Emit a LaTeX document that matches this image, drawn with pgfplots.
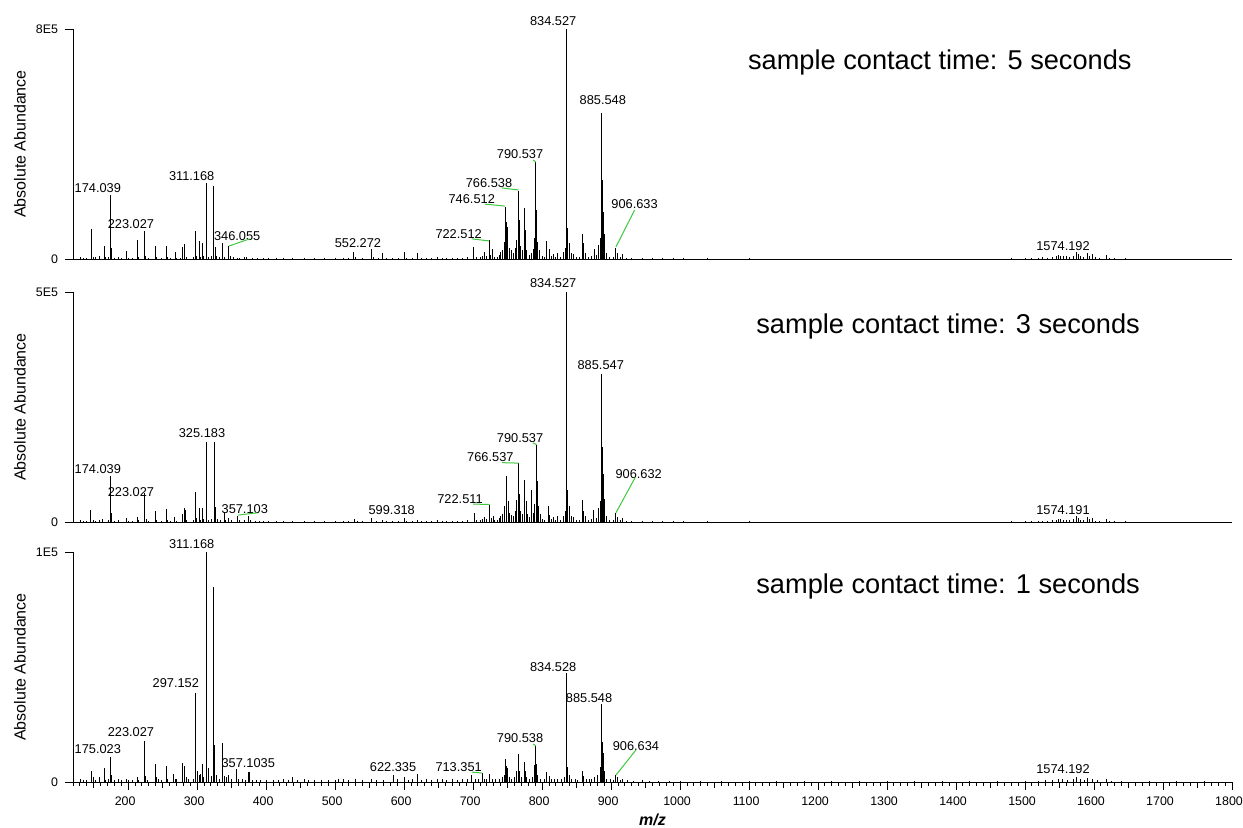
\documentclass[border=0pt]{standalone}
\usepackage{fontspec}
\setmainfont{Liberation Sans}
\usepackage{pgfplots}
\pgfplotsset{compat=1.18}
\definecolor{leader}{RGB}{60,200,60}
\newcommand\pk{\fontsize{6.4}{7}\selectfont}
\newcommand\annfont{\fontsize{13.6}{16}\selectfont}
\tikzset{
  lab/.style={font=\pk, inner sep=0pt, anchor=center},
  ann/.style={font=\annfont, inner sep=0pt, anchor=west},
  ld/.style={leader, line width=0.5pt},
}
\begin{document}
\begin{tikzpicture}
\path[use as bounding box] (-36.5pt,-22.5pt) rectangle (585pt,391pt);
\pgfplotsset{
  spec/.style={
    width=579.5pt, height=115pt, scale only axis,
    anchor=south west,
    xmin=120, xmax=1800, ymin=0,
    axis x line=bottom, axis y line=left,
    axis line style={-, line width=0.5pt},
    clip=false,
    tick align=outside,
    major tick length=4pt,
    tick style={line width=0.5pt, black},
    scaled y ticks=false,
    yticklabel style={font=\fontsize{6.2}{7}\selectfont},
    ylabel={Absolute Abundance},
    ylabel style={font=\fontsize{8}{9}\selectfont, at={(axis description cs:0,0.5)}, anchor=center, yshift=26.5pt},
  },
  sp/.style={ycomb, black, line width=0.5pt, mark=none},
}

% ---------- top: 5 seconds ----------
\begin{axis}[spec, at={(0,261.5pt)}, ymax=800000,
  xtick=\empty, ytick={0,800000}, yticklabels={0,8E5}]
\addplot[sp] coordinates {
(131,8000)(135,5000)(140,4000)(147,104000)(149,8000)(152,6000)(158,10000)(165,45000)(167,6000)(172,6000)
(174,223000)(175,177000)(176,40000)(180,5000)(186,6000)(190,4000)(197,28000)(200,5000)(206,4000)(213,66000)
(215,6000)(223,97000)(225,10000)(230,4000)(239,45000)(241,8000)(248,4000)(255,45000)(257,6000)(262,4000)
(268,24000)(270,5000)(276,3000)(279,42000)(281,52000)(282,45000)(285,8000)(294,8000)(297,97000)(299,10000)
(303,63000)(305,8000)(307,56000)(309,10000)(313,264000)(314,45000)(316,8000)(321,10000)(324,254000)(326,42000)
(328,10000)(332,6000)(337,56000)(339,8000)(346,45000)(348,10000)(352,6000)(358,5000)(362,4000)(369,6000)
(372,6000)(380,4000)(388,3000)(396,3000)(404,4000)(415,3000)(425,2000)(438,4000)(455,3000)(470,2000)
(485,2000)(500,2000)(512,3000)(520,4000)(527,24000)(530,6000)(540,3000)(552,35000)(555,6000)(563,4000)
(569,21000)(575,3000)(583,4000)(592,3000)(600,24000)(604,4000)(612,3000)(619,21000)(625,4000)(633,3000)
(640,4000)(648,6000)(655,3000)(662,4000)(670,3000)(678,5000)(685,4000)(692,6000)(701,42000)(705,6000)
(710,8000)(714,10000)(717,24000)(720,12000)(723,66000)(725,14000)(728,35000)(731,8000)(735,6000)(738,14000)
(740,24000)(743,30000)(745,60000)(747,181000)(748,129000)(750,111000)(752,40000)(755,30000)(758,20000)(761,40000)
(763,66000)(766,236000)(767,135000)(769,45000)(771,30000)(774,177000)(776,101000)(778,30000)(781,15000)(784,20000)
(787,35000)(789,73000)(791,337000)(792,170000)(794,60000)(796,30000)(800,10000)(804,8000)(807,63000)(810,35000)
(813,10000)(817,17000)(820,8000)(823,21000)(827,6000)(831,24000)(834,40000)(836,800000)(837,108000)(839,56000)
(842,20000)(845,17000)(850,8000)(854,6000)(858,87000)(860,56000)(863,21000)(867,8000)(871,10000)(876,35000)
(879,15000)(882,50000)(884,73000)(886,508000)(887,275000)(889,163000)(891,87000)(894,20000)(898,8000)(903,6000)
(907,38000)(909,21000)(913,8000)(917,17000)(922,5000)(930,3000)(945,2500)(960,2000)(975,3000)(990,2000)
(1005,2000)(1020,1500)(1040,2000)(1060,1500)(1080,1500)(1100,2000)(1120,1500)(1150,1500)(1180,1200)(1210,1500)
(1240,1200)(1270,1500)(1300,1200)(1330,1200)(1360,1500)(1390,1200)(1420,1500)(1450,1200)(1480,2000)(1500,2500)
(1510,3000)(1520,4000)(1526,6000)(1532,5000)(1540,8000)(1545,10000)(1548,14000)(1552,12000)(1556,9000)(1560,10000)
(1565,8000)(1570,12000)(1575,24000)(1577,18000)(1580,10000)(1585,8000)(1591,21000)(1594,12000)(1598,17000)(1602,6000)
(1608,4000)(1618,14000)(1622,5000)(1630,3000)(1645,2000)(1665,1500)(1690,1200)(1720,1200)(1750,1000)(1780,1000)
};
\node[lab] at (axis cs:816,828000) {834.527};
\node[lab] at (axis cs:888,553000) {885.548};
\node[lab] at (axis cs:768,365000) {790.537};
\node[lab] at (axis cs:723,264000) {766.538};
\node[lab] at (axis cs:698,209000) {746.512};
\node[lab] at (axis cs:679,87000) {722.512};
\node[lab] at (axis cs:934,191000) {906.633};
\node[lab] at (axis cs:156,247000) {174.039};
\node[lab] at (axis cs:292,289000) {311.168};
\node[lab] at (axis cs:204,122000) {223.027};
\node[lab] at (axis cs:358,80000) {346.055};
\node[lab] at (axis cs:533,56000) {552.272};
\node[lab] at (axis cs:1555,45000) {1574.192};
\draw[ld] (axis cs:787,344000) -- (axis cs:791,337000);
\draw[ld] (axis cs:742,247000) -- (axis cs:766,240000);
\draw[ld] (axis cs:717,191000) -- (axis cs:746,184000);
\draw[ld] (axis cs:698,70000) -- (axis cs:723,63000);
\draw[ld] (axis cs:934,170000) -- (axis cs:907,42000);
\draw[ld] (axis cs:346,45000) -- (axis cs:376,70000);
\node[ann] at (axis cs:1098,685000) {sample contact time: 5 seconds};
\end{axis}

% ---------- middle: 3 seconds ----------
\begin{axis}[spec, at={(0,130pt)}, ymax=500000,
  xtick=\empty, ytick={0,500000}, yticklabels={0,5E5}]
\addplot[sp] coordinates {
(131,4000)(135,3000)(140,3000)(146,26000)(149,4000)(152,3000)(158,5000)(163,6000)(172,4000)(174,100000)
(175,80000)(176,20000)(180,3000)(186,4000)(197,8000)(200,3000)(206,3000)(213,10000)(215,4000)(224,64000)
(226,6000)(230,3000)(239,25000)(241,4000)(248,3000)(255,28000)(257,4000)(262,3000)(267,11000)(270,3000)
(279,18000)(281,31000)(283,27000)(285,5000)(294,5000)(297,65000)(299,8000)(303,30000)(305,5000)(307,30000)
(309,6000)(313,175000)(314,30000)(316,5000)(321,6000)(325,175000)(327,33000)(330,6000)(334,4000)(339,22000)
(341,5000)(345,9000)(350,4000)(359,13000)(362,4000)(369,5000)(375,12000)(378,5000)(384,3000)(390,3000)
(396,3000)(404,3000)(415,2000)(425,2000)(438,3000)(455,2000)(470,2000)(485,1500)(500,2000)(512,2000)
(520,3000)(528,7000)(532,3000)(540,2000)(552,9000)(560,3000)(569,4000)(575,2000)(583,3000)(592,2000)
(600,9000)(604,3000)(612,2000)(619,4000)(625,3000)(633,2000)(640,3000)(648,4000)(655,2000)(662,3000)
(670,2000)(678,3000)(685,3000)(692,4000)(702,20000)(705,4000)(710,5000)(714,6000)(717,10000)(720,6000)
(724,36000)(726,8000)(729,12000)(731,5000)(735,4000)(738,8000)(740,12000)(743,18000)(745,35000)(748,100000)
(749,60000)(751,45000)(753,20000)(756,15000)(759,12000)(761,25000)(763,48000)(766,129000)(767,60000)(769,25000)
(771,18000)(775,92000)(777,45000)(779,18000)(781,10000)(784,70000)(787,20000)(789,40000)(792,168000)(793,90000)
(795,35000)(797,18000)(800,6000)(804,5000)(809,35000)(811,15000)(814,6000)(817,10000)(820,5000)(823,12000)
(827,4000)(831,14000)(834,25000)(836,500000)(837,70000)(839,35000)(842,12000)(845,10000)(850,5000)(854,4000)
(858,48000)(860,25000)(863,12000)(867,5000)(871,6000)(875,26000)(879,9000)(882,30000)(884,45000)(886,321000)
(887,164000)(889,105000)(891,50000)(894,12000)(898,5000)(903,4000)(907,20000)(909,10000)(913,5000)(917,8000)
(922,3000)(930,2000)(945,1500)(960,1500)(975,2000)(990,1500)(1005,1500)(1020,1000)(1040,1500)(1060,1000)
(1080,1000)(1100,1500)(1120,1000)(1150,1000)(1180,800)(1210,1000)(1240,800)(1270,1000)(1300,800)(1330,800)
(1360,1000)(1390,800)(1420,1000)(1450,800)(1480,1200)(1500,1500)(1510,2000)(1520,2500)(1526,3000)(1532,3000)
(1540,4000)(1545,5000)(1548,7000)(1552,6000)(1556,5000)(1560,5000)(1565,4000)(1570,6000)(1575,12000)(1577,9000)
(1580,5000)(1585,4000)(1591,10000)(1594,6000)(1598,8000)(1602,3000)(1608,2000)(1618,7000)(1622,3000)(1630,2000)
(1645,1200)(1665,1000)(1690,800)(1720,800)(1750,600)(1780,600)
};
\node[lab] at (axis cs:816,520000) {834.527};
\node[lab] at (axis cs:885,341000) {885.547};
\node[lab] at (axis cs:768,183000) {790.537};
\node[lab] at (axis cs:725,142000) {766.537};
\node[lab] at (axis cs:940,105000) {906.632};
\node[lab] at (axis cs:307,194000) {325.183};
\node[lab] at (axis cs:156,116000) {174.039};
\node[lab] at (axis cs:204,65000) {223.027};
\node[lab] at (axis cs:369,28000) {357.103};
\node[lab] at (axis cs:582,26000) {599.318};
\node[lab] at (axis cs:681,50000) {722.511};
\node[lab] at (axis cs:1555,26000) {1574.191};
\draw[ld] (axis cs:787,172000) -- (axis cs:792,168000);
\draw[ld] (axis cs:742,129000) -- (axis cs:766,128000);
\draw[ld] (axis cs:700,39000) -- (axis cs:724,38000);
\draw[ld] (axis cs:935,97000) -- (axis cs:907,20000);
\draw[ld] (axis cs:359,15000) -- (axis cs:387,20000);
\node[ann] at (axis cs:1110,426000) {sample contact time: 3 seconds};
\end{axis}

% ---------- bottom: 1 seconds ----------
\begin{axis}[spec, at={(0,0pt)}, ymax=100000,
  ytick={0,100000}, yticklabels={0,1E5},
  xtick={100,200,...,1800},
  minor x tick num=9,
  minor tick length=2pt,
  extra x ticks={150,250,...,1750},
  extra x tick labels={},
  extra x tick style={major tick length=3pt},
  xticklabel style={font=\fontsize{6.2}{7}\selectfont, xshift=-1.5pt},
  /pgf/number format/1000 sep={},
  /pgf/number format/assume math mode=true,
  xlabel={\textbf{\textit{m/z}}},
  xlabel style={font=\fontsize{8}{9}\selectfont, at={(axis description cs:0.5,0)}, anchor=center, yshift=-19pt},
  ]
\addplot[sp] coordinates {
(131,1500)(135,1000)(140,800)(147,5000)(149,2000)(152,1000)(158,2000)(165,6000)(167,1000)(172,1500)
(174,10000)(175,11000)(176,3000)(180,1000)(186,1500)(190,800)(197,1200)(200,800)(206,800)(213,2000)
(215,800)(223,18000)(225,2500)(228,1000)(239,8000)(241,2000)(244,1200)(248,800)(255,7000)(257,1500)
(265,3500)(268,1500)(270,1200)(279,8300)(281,7000)(284,2000)(288,1500)(294,1500)(297,38700)(298,6500)
(300,5000)(303,3000)(305,3500)(307,8000)(309,2000)(313,100000)(314,18000)(317,6000)(321,2500)(324,85000)
(325,16000)(328,3000)(332,1500)(337,17000)(339,2500)(342,2000)(345,3000)(350,1500)(357,5600)(360,1500)
(365,1200)(370,1000)(374,4300)(376,4300)(380,1000)(386,800)(392,1000)(400,800)(410,1000)(418,800)
(425,1200)(432,1000)(438,2000)(445,800)(455,1500)(462,800)(470,800)(480,1000)(490,800)(500,1000)
(505,1200)(512,1500)(520,800)(530,1200)(540,800)(552,1200)(560,800)(570,1000)(584,3000)(590,1200)
(601,2000)(607,1000)(612,1200)(620,3500)(625,1000)(633,1500)(640,1000)(648,1200)(655,1500)(662,1000)
(670,1200)(678,1000)(685,1500)(692,1200)(698,3000)(703,1500)(708,1200)(713,4000)(717,1500)(720,1500)
(724,3500)(728,1500)(733,1200)(738,1500)(742,2000)(745,3000)(747,10000)(748,7000)(750,6000)(752,2000)
(756,1500)(760,2000)(763,5000)(766,12000)(767,5000)(770,2000)(774,8700)(776,5000)(778,2000)(782,1500)
(786,2000)(789,7400)(791,15700)(792,8000)(794,3000)(798,1200)(803,1500)(807,4300)(810,2500)(814,1200)
(818,1500)(823,1500)(828,1200)(833,2000)(836,47400)(837,6500)(839,3000)(843,1500)(848,1200)(852,1000)
(858,5000)(860,2500)(864,1500)(868,1200)(872,1500)(876,2000)(880,3000)(884,6500)(886,34000)(887,17400)
(889,12600)(891,5000)(894,1500)(899,1200)(904,1000)(907,3000)(909,2000)(913,1000)(917,1500)(924,800)
(932,600)(945,1000)(955,600)(968,500)(985,600)(1000,400)(1030,400)(1060,300)(1100,400)(1140,300)
(1180,300)(1220,300)(1260,300)(1300,300)(1340,300)(1380,300)(1420,300)(1460,400)(1500,500)(1520,600)
(1530,800)(1540,1000)(1548,1500)(1555,1200)(1562,1000)(1570,1200)(1575,2000)(1580,1200)(1586,1000)(1591,1800)
(1598,1500)(1605,800)(1618,1200)(1625,600)(1640,400)(1680,300)(1720,300)(1760,300)
};
\node[lab] at (axis cs:292,103500) {311.168};
\node[lab] at (axis cs:269,43000) {297.152};
\node[lab] at (axis cs:204,21700) {223.027};
\node[lab] at (axis cs:156,14300) {175.023};
\node[lab] at (axis cs:374,8300) {357.1035};
\node[lab] at (axis cs:584,6500) {622.335};
\node[lab] at (axis cs:816,50000) {834.528};
\node[lab] at (axis cs:868,36500) {885.548};
\node[lab] at (axis cs:768,19000) {790.538};
\node[lab] at (axis cs:679,6500) {713.351};
\node[lab] at (axis cs:936,15700) {906.634};
\node[lab] at (axis cs:1555,5700) {1574.192};
\draw[ld] (axis cs:698,4300) -- (axis cs:713,3900);
\draw[ld] (axis cs:787,16500) -- (axis cs:791,15700);
\draw[ld] (axis cs:936,13900) -- (axis cs:907,3000);
\node[ann] at (axis cs:1110,85200) {sample contact time: 1 seconds};
\end{axis}
\end{tikzpicture}
\end{document}
